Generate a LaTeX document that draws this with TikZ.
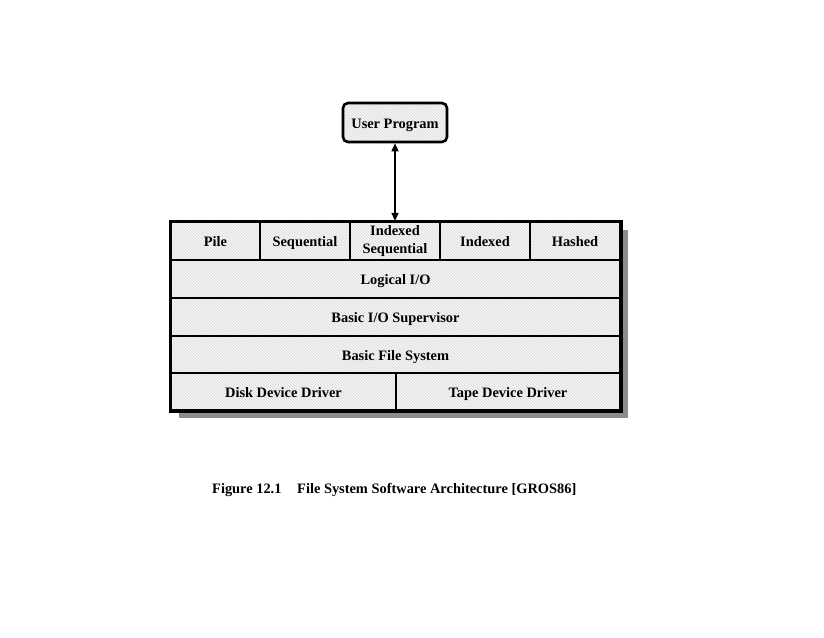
\documentclass[tikz,border=0pt]{standalone}
\usepackage{fontspec}
\setmainfont{Liberation Serif}
\usetikzlibrary{arrows.meta,patterns}
\begin{document}
\begin{tikzpicture}[x=1pt,y=-1pt,
  lbl/.style={font=\fontsize{14.4}{17}\selectfont\bfseries},
  cell/.style={lbl,draw=black,line width=2.2pt,inner sep=0pt,align=center,
    text height=12pt,text depth=1pt,
    preaction={fill=gray!8},preaction={pattern=north west lines,pattern color=gray!28}},
  twoline/.style={text height=,text depth=},
  progbox/.style={cell,rounded corners=5pt,line width=2.6pt},
  shadowbox/.style={fill=black!45,draw=none}]
\useasboundingbox (0,0) rectangle (824,637);
% shadow
\fill[shadowbox] (179,230) rectangle (628,418);
% top row
\node[cell,minimum width=89pt,minimum height=38pt] (pile) at (215.5,241) {Pile};
\node[cell,minimum width=90pt,minimum height=38pt] (seq) at (305,241) {Sequential};
\node[cell,twoline,minimum width=90pt,minimum height=38pt] (idxseq) at (395,241) {\raisebox{-2pt}{Indexed}\\[1pt]\raisebox{-2pt}{Sequential}};
\node[cell,minimum width=90pt,minimum height=38pt] (idx) at (485,241) {Indexed};
\node[cell,minimum width=90pt,minimum height=38pt] (hash) at (575,241) {Hashed};
% layers
\node[cell,minimum width=449pt,minimum height=38pt] (lio) at (395.5,279) {Logical I/O};
\node[cell,minimum width=449pt,minimum height=38pt] (bios) at (395.5,317) {Basic I/O Supervisor};
\node[cell,minimum width=449pt,minimum height=37pt] (bfs) at (395.5,354.5) {Basic File System};
\node[cell,minimum width=225pt,minimum height=37pt] (disk) at (283.5,391.5) {Disk Device Driver};
\node[cell,minimum width=224pt,minimum height=37pt] (tape) at (508,391.5) {Tape Device Driver};
% outer border
\draw[line width=2.8pt] (pile.north west) rectangle (tape.south east);
% user program
\node[progbox,minimum width=104pt,minimum height=39pt] (user) at (395,122.5) {User Program};
\draw[line width=1.4pt,{Triangle[length=8pt,width=7pt]}-{Triangle[length=8pt,width=7pt]}] (user.south) -- (idxseq.north);
% caption
\node[lbl,anchor=west,inner sep=0pt] (fig) at (212,490) {Figure 12.1};
\node[lbl,anchor=west,inner sep=0pt] (cap) at (297,490) {File System Software Architecture [GROS86]};
\end{tikzpicture}
\end{document}
